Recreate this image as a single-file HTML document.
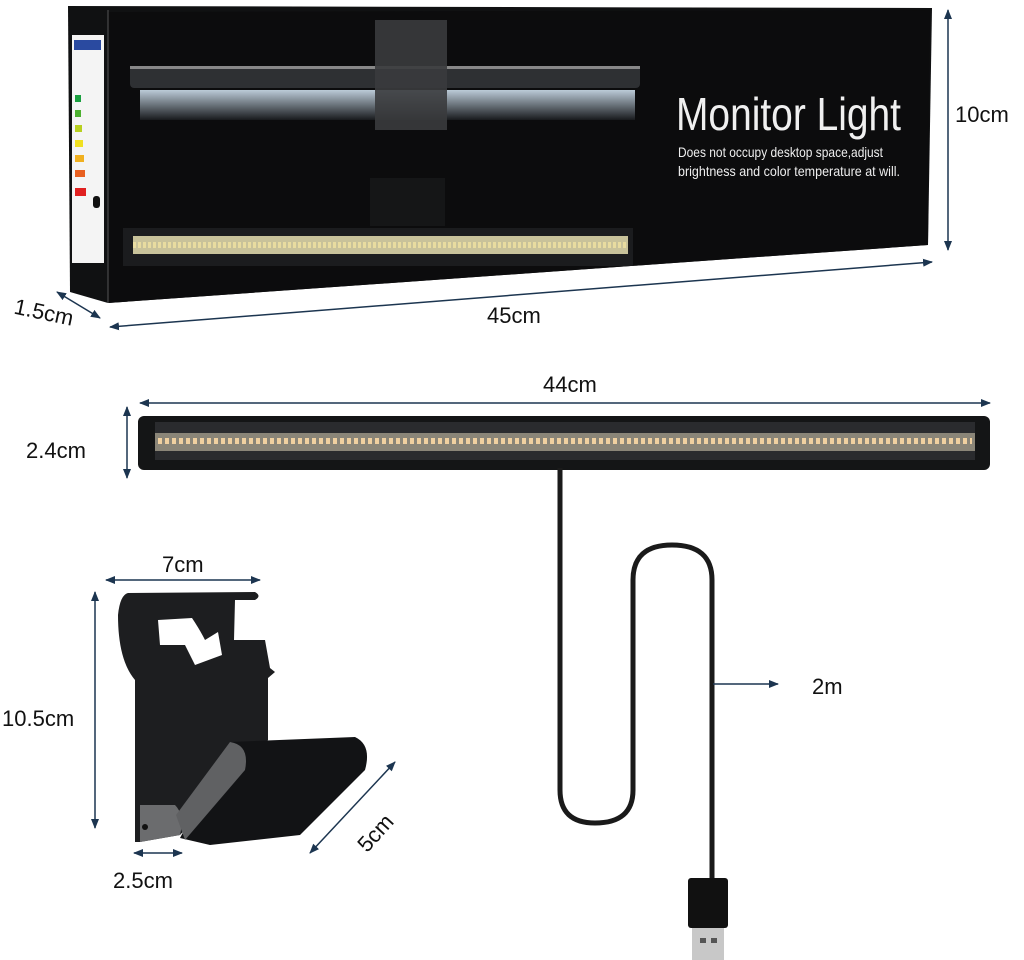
<!DOCTYPE html>
<html><head><meta charset="utf-8"><style>
html,body{margin:0;padding:0;background:#fff;}
svg{display:block;}
text{font-family:"Liberation Sans",sans-serif;}
</style></head><body>
<svg width="1024" height="960" viewBox="0 0 1024 960">
<defs>
<marker id="a" markerWidth="10" markerHeight="10" refX="9" refY="5" orient="auto" markerUnits="userSpaceOnUse" viewBox="0 0 10 10"><path d="M0,1 L10,5 L0,9 Z" fill="#1c3550"/></marker>
<marker id="s" markerWidth="10" markerHeight="10" refX="1" refY="5" orient="auto" markerUnits="userSpaceOnUse" viewBox="0 0 10 10"><path d="M10,1 L0,5 L10,9 Z" fill="#1c3550"/></marker>
<linearGradient id="glow" x1="0" y1="0" x2="0" y2="1"><stop offset="0" stop-color="#cfe0ee"/><stop offset="1" stop-color="#1a1c1f"/></linearGradient>
</defs>
<!-- box -->
<polygon points="68,6 932,8 928,245 108,303 70,292" fill="#101112"/>
<polygon points="108,12 930,10 928,245 108,303" fill="#0c0c0d"/>
<line x1="108" y1="10" x2="108" y2="303" stroke="#555" stroke-width="1"/>
<rect x="72" y="35" width="32" height="228" fill="#f4f4f4"/>
<rect x="74" y="40" width="27" height="10" fill="#2a4aa0"/>
<rect x="75" y="95" width="6" height="7" fill="#1aa040"/>
<rect x="75" y="110" width="6" height="7" fill="#4cb030"/>
<rect x="75" y="125" width="7" height="7" fill="#b8d020"/>
<rect x="75" y="140" width="8" height="7" fill="#f0e020"/>
<rect x="75" y="155" width="9" height="7" fill="#f0b020"/>
<rect x="75" y="170" width="10" height="7" fill="#e86020"/>
<rect x="75" y="188" width="11" height="8" fill="#e02020"/>
<rect x="93" y="196" width="7" height="12" rx="3" fill="#111"/>
<!-- light bar in box -->
<rect x="130" y="66" width="510" height="22" rx="4" fill="#2e3033"/>
<rect x="130" y="66" width="510" height="3" fill="#888"/>
<rect x="140" y="90" width="495" height="30" fill="url(#glow)" opacity="0.9"/>
<rect x="375" y="20" width="72" height="110" fill="#3a3b3d" opacity="0.9"/>
<rect x="370" y="178" width="75" height="48" fill="#151617"/>
<rect x="123" y="228" width="510" height="38" fill="#1b1c1e"/>
<rect x="133" y="236" width="495" height="18" fill="#c8c29a"/>
<line x1="133" y1="245" x2="628" y2="245" stroke="#e8dca0" stroke-width="6" stroke-dasharray="3 2"/>
<text x="676" y="130" font-size="46" fill="#f0f0f0" textLength="225" lengthAdjust="spacingAndGlyphs">Monitor Light</text>
<text x="678" y="157" font-size="14" fill="#eee" textLength="205" lengthAdjust="spacingAndGlyphs">Does not occupy desktop space,adjust</text>
<text x="678" y="176" font-size="14" fill="#eee" textLength="222" lengthAdjust="spacingAndGlyphs">brightness and color temperature at will.</text>
<!-- dims box -->
<line x1="948" y1="10" x2="948" y2="250" stroke="#1c3550" stroke-width="1.5" marker-start="url(#s)" marker-end="url(#a)"/>
<text x="955" y="122" font-size="22" fill="#111">10cm</text>
<line x1="110" y1="327" x2="932" y2="262" stroke="#1c3550" stroke-width="1.5" marker-start="url(#s)" marker-end="url(#a)"/>
<text x="487" y="323" font-size="22" fill="#111">45cm</text>
<line x1="57" y1="292" x2="100" y2="318" stroke="#1c3550" stroke-width="1.5" marker-start="url(#s)" marker-end="url(#a)"/>
<text x="14" y="320" font-size="22" fill="#111" transform="rotate(12 45 312)">1.5cm</text>
<!-- bar -->
<line x1="140" y1="403" x2="990" y2="403" stroke="#1c3550" stroke-width="1.5" marker-start="url(#s)" marker-end="url(#a)"/>
<text x="543" y="392" font-size="22" fill="#111">44cm</text>
<line x1="127" y1="407" x2="127" y2="478" stroke="#1c3550" stroke-width="1.5" marker-start="url(#s)" marker-end="url(#a)"/>
<text x="26" y="458" font-size="22" fill="#111">2.4cm</text>
<rect x="138" y="416" width="852" height="54" rx="6" fill="#141516"/>
<rect x="155" y="422" width="820" height="38" fill="#2a2b2e"/>
<rect x="155" y="433" width="820" height="18" fill="#8a8578"/>
<line x1="158" y1="441" x2="972" y2="441" stroke="#f0d0a0" stroke-width="6" stroke-dasharray="4 3"/>
<!-- cable -->
<path d="M560,468 L560,790 Q560,823 595,823 Q633,823 633,790 L633,580 Q633,545 672,545 Q712,545 712,580 L712,880" fill="none" stroke="#1a1a1a" stroke-width="5"/>
<line x1="713" y1="684" x2="778" y2="684" stroke="#1c3550" stroke-width="1.5" marker-end="url(#a)"/>
<text x="812" y="694" font-size="22" fill="#111">2m</text>
<rect x="688" y="878" width="40" height="50" rx="3" fill="#111"/>
<rect x="692" y="928" width="32" height="32" fill="#c8c8c8"/>
<rect x="700" y="938" width="6" height="5" fill="#555"/><rect x="711" y="938" width="6" height="5" fill="#555"/>
<!-- clip -->
<line x1="106" y1="580" x2="260" y2="580" stroke="#1c3550" stroke-width="1.5" marker-start="url(#s)" marker-end="url(#a)"/>
<text x="162" y="572" font-size="22" fill="#111">7cm</text>
<line x1="95" y1="592" x2="95" y2="828" stroke="#1c3550" stroke-width="1.5" marker-start="url(#s)" marker-end="url(#a)"/>
<text x="2" y="726" font-size="22" fill="#111">10.5cm</text>
<line x1="134" y1="853" x2="182" y2="853" stroke="#1c3550" stroke-width="1.5" marker-start="url(#s)" marker-end="url(#a)"/>
<text x="113" y="888" font-size="22" fill="#111">2.5cm</text>
<line x1="310" y1="853" x2="395" y2="762" stroke="#1c3550" stroke-width="1.5" marker-start="url(#s)" marker-end="url(#a)"/>
<text x="350" y="845" font-size="22" fill="#111" transform="rotate(-48 368 830)">5cm</text>
<path d="M128,593 L255,592 Q262,596 255,600 L235,600 L234,640 L265,640 L270,668 L275,672 L268,678 L268,740 L180,835 L140,842 L135,842 L135,680 Q118,660 118,615 Q120,595 128,593 Z" fill="#1d1e20"/>
<path d="M158,620 L192,618 Q200,630 205,640 L218,632 L222,655 L195,665 L185,645 L160,645 Z" fill="#fff"/>
<path d="M140,805 L175,805 Q185,815 180,835 L140,842 Z" fill="#6b6c6e"/>
<circle cx="145" cy="827" r="3" fill="#111"/>
<path d="M230,742 L355,737 Q372,745 365,770 L300,835 L210,845 L180,838 Z" fill="#121315"/>
<path d="M230,742 Q250,745 245,770 L185,840 L176,815 Z" fill="#606163"/>
</svg>
</body></html>
